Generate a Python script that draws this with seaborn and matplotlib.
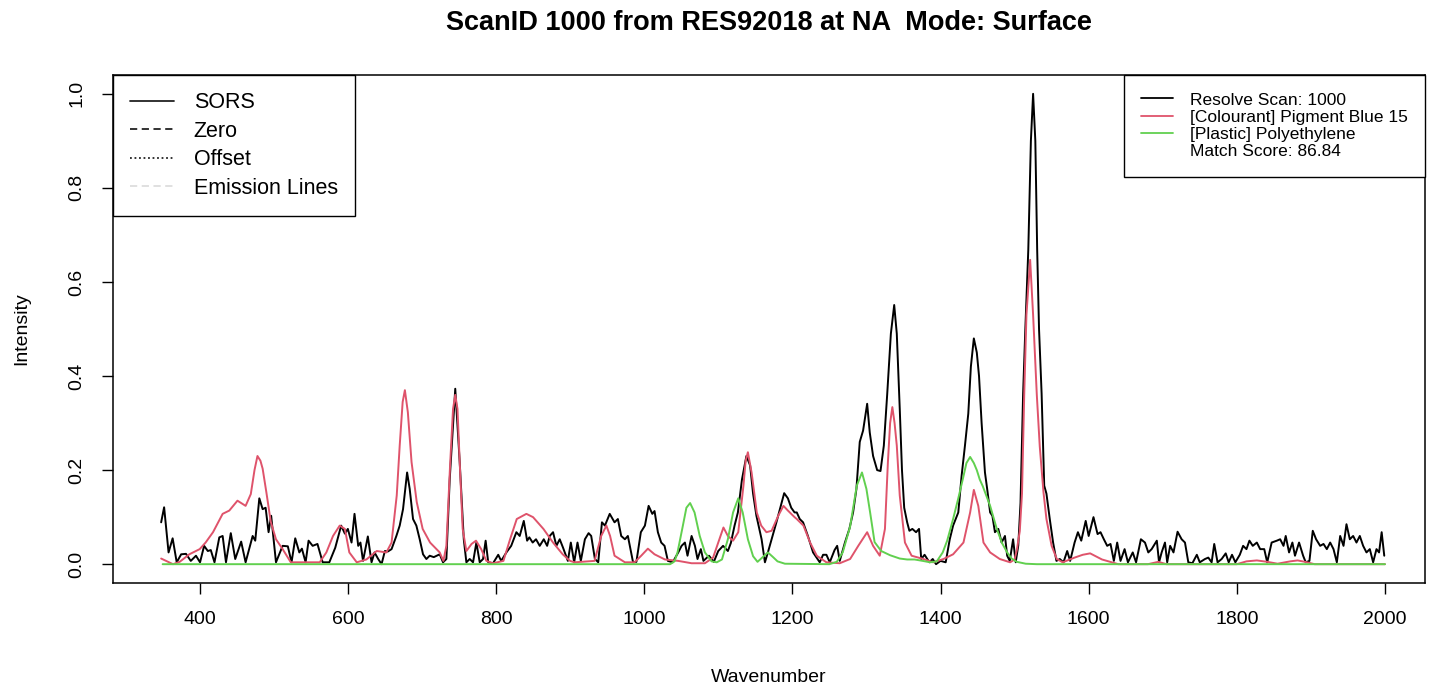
import matplotlib
matplotlib.use("Agg")
import matplotlib.pyplot as plt
from matplotlib.lines import Line2D
import seaborn as sns

# spectrum (wavenumber, normalised intensity)
scan_wn = [348, 352, 358, 363.5, 369, 375, 381.5, 388, 395, 400.5, 406, 411, 415, 420,
           426.5, 431, 435.5, 442, 448, 456, 462, 471.5, 475, 480.5, 485, 489, 493, 496.5,
           503, 512, 519, 524, 529, 534.5, 538, 543, 547, 552.5, 559, 566, 575, 583, 591,
           596, 600, 605, 609, 614, 617, 620.5, 627, 632, 636, 641, 645.5, 650, 654, 659,
           665.5, 670, 674.5, 680, 683.5, 688, 692.5, 697, 701.5, 706, 710.5, 716, 724,
           728.5, 733, 737.5, 745, 751, 756.5, 760, 764.5, 769, 773.5, 778, 782.5, 786,
           789.5, 796, 803, 807, 814, 820.5, 827.5, 832, 837.5, 842, 845, 849.5, 854, 859,
           864.5, 869, 872.5, 877, 881.5, 886, 890.5, 897, 901, 905.5, 910, 914.5, 920,
           925, 928.5, 933.5, 938, 943, 947, 953.5, 960, 964.5, 969, 974, 978, 985, 989.5,
           995.5, 1001, 1006, 1011, 1014, 1018.5, 1023, 1027.5, 1032, 1038.5, 1046, 1050.5,
           1055, 1058.5, 1064, 1068.5, 1072, 1076.5, 1080, 1087.5, 1094, 1100, 1106.5, 1113,
           1117, 1122, 1126.5, 1132, 1138, 1143, 1147, 1151.5, 1158.5, 1163, 1167, 1172,
           1178.5, 1184.5, 1189, 1194, 1198.5, 1203, 1206, 1210, 1214.5, 1221, 1228, 1237,
           1241.5, 1246, 1250.5, 1257, 1260.5, 1264, 1271, 1277, 1282, 1286.5, 1291,
           1295.5, 1301, 1304.5, 1309, 1314.5, 1319, 1323.5, 1328, 1333, 1337.5, 1341, 1345,
           1348, 1351, 1355, 1358, 1362, 1367, 1371, 1374, 1378.5, 1385, 1389.5, 1394, 1400,
           1407, 1412.5, 1417, 1424, 1428.5, 1433, 1437.5, 1441, 1445, 1449, 1452, 1455.5,
           1460, 1463, 1467, 1470, 1473.5, 1478, 1482.5, 1487, 1490, 1493.5, 1498, 1501.5,
           1505, 1508, 1511.5, 1514.5, 1518.5, 1522, 1525, 1528, 1530.5, 1533, 1536.5, 1540,
           1543, 1547.5, 1552, 1556.5, 1561, 1566, 1571, 1575, 1581, 1585.5, 1590, 1596,
           1600, 1606.5, 1612, 1616, 1620.5, 1625, 1629.5, 1634, 1638.5, 1643, 1648.5, 1653,
           1659.5, 1664, 1670.5, 1676, 1680.5, 1685, 1692, 1695, 1698.5, 1703, 1706, 1710,
           1714.5, 1720, 1725.5, 1730, 1734.5, 1740, 1746, 1750, 1757, 1761.5, 1766, 1769.5,
           1774, 1779.5, 1785, 1789, 1793.5, 1798, 1804, 1808.5, 1813, 1817, 1821.5, 1827,
           1831.5, 1837, 1841, 1847, 1854, 1858.5, 1863, 1866, 1870.5, 1875, 1878.5, 1884,
           1889.5, 1893, 1898, 1902.5, 1907, 1912.5, 1917, 1921.5, 1926, 1930.5, 1935,
           1939.5, 1944, 1948, 1952.5, 1957, 1961.5, 1966, 1970.5, 1975, 1979.5, 1984,
           1988.5, 1992, 1995.5, 1999]
scan_int = [0.089, 0.121, 0.025, 0.055, 0.004, 0.021, 0.022, 0.007, 0.018, 0.004, 0.039,
            0.028, 0.030, 0.004, 0.057, 0.060, 0.004, 0.066, 0.011, 0.048, 0.004, 0.060,
            0.050, 0.140, 0.117, 0.120, 0.068, 0.103, 0.004, 0.039, 0.038, 0.004, 0.055,
            0.025, 0.033, 0.004, 0.050, 0.039, 0.043, 0.004, 0.004, 0.035, 0.082, 0.065,
            0.075, 0.046, 0.107, 0.039, 0.046, 0.007, 0.059, 0.004, 0.025, 0.011, 0.000,
            0.028, 0.027, 0.032, 0.060, 0.082, 0.117, 0.195, 0.160, 0.096, 0.082, 0.053,
            0.021, 0.011, 0.018, 0.015, 0.021, 0.004, 0.011, 0.180, 0.373, 0.217, 0.053,
            0.004, 0.011, 0.004, 0.046, 0.004, 0.011, 0.050, 0.004, 0.002, 0.020, 0.007,
            0.025, 0.039, 0.068, 0.060, 0.092, 0.050, 0.057, 0.046, 0.053, 0.039, 0.053,
            0.039, 0.060, 0.068, 0.039, 0.053, 0.035, 0.007, 0.046, 0.004, 0.046, 0.007,
            0.053, 0.066, 0.060, 0.011, 0.004, 0.089, 0.082, 0.107, 0.089, 0.096, 0.060,
            0.053, 0.060, 0.004, 0.005, 0.068, 0.082, 0.124, 0.107, 0.113, 0.068, 0.046,
            0.039, 0.007, 0.004, 0.025, 0.039, 0.046, 0.018, 0.060, 0.039, 0.011, 0.032,
            0.007, 0.018, 0.005, 0.028, 0.039, 0.028, 0.045, 0.082, 0.110, 0.180, 0.230,
            0.210, 0.150, 0.103, 0.053, 0.004, 0.025, 0.053, 0.089, 0.124, 0.151, 0.140,
            0.120, 0.110, 0.110, 0.096, 0.089, 0.060, 0.025, 0.004, 0.020, 0.020, 0.004,
            0.030, 0.039, 0.007, 0.046, 0.075, 0.110, 0.160, 0.260, 0.284, 0.341, 0.280,
            0.230, 0.200, 0.198, 0.252, 0.360, 0.490, 0.551, 0.490, 0.330, 0.200, 0.120,
            0.089, 0.071, 0.075, 0.068, 0.075, 0.011, 0.020, 0.004, 0.011, 0.000, 0.007,
            0.004, 0.053, 0.082, 0.110, 0.188, 0.252, 0.320, 0.420, 0.480, 0.450, 0.400,
            0.300, 0.195, 0.160, 0.110, 0.103, 0.068, 0.075, 0.046, 0.060, 0.018, 0.007,
            0.053, 0.004, 0.040, 0.130, 0.362, 0.500, 0.668, 0.900, 1.000, 0.900, 0.668,
            0.500, 0.362, 0.167, 0.150, 0.096, 0.046, 0.007, 0.011, 0.004, 0.028, 0.007,
            0.046, 0.068, 0.050, 0.092, 0.060, 0.100, 0.064, 0.068, 0.053, 0.039, 0.043,
            0.007, 0.046, 0.007, 0.032, 0.004, 0.025, 0.004, 0.053, 0.046, 0.025, 0.032,
            0.050, 0.004, 0.025, 0.046, 0.004, 0.039, 0.025, 0.069, 0.053, 0.046, 0.004,
            0.002, 0.020, 0.004, 0.011, 0.014, 0.004, 0.043, 0.004, 0.011, 0.023, 0.004,
            0.020, 0.004, 0.020, 0.039, 0.032, 0.050, 0.039, 0.046, 0.032, 0.032, 0.004,
            0.046, 0.050, 0.053, 0.039, 0.060, 0.025, 0.046, 0.018, 0.046, 0.018, 0.004,
            0.007, 0.071, 0.053, 0.039, 0.043, 0.032, 0.046, 0.032, 0.004, 0.060, 0.039,
            0.085, 0.053, 0.060, 0.046, 0.060, 0.039, 0.025, 0.032, 0.004, 0.032, 0.025,
            0.068, 0.018]

# [Colourant] Pigment Blue 15 library spectrum
pb15_wn = [348, 364, 373, 386, 400, 408, 418, 431, 440, 451, 462, 469, 474, 478, 482,
           485, 490, 496, 503, 512, 523, 543, 562, 571, 580, 589, 596, 602, 612, 625, 639,
           652, 659, 666, 670, 674, 677, 681, 686, 693, 701, 711, 724, 729, 733, 738, 742,
           745, 748, 751, 755, 760, 767, 773, 780, 787, 796, 810, 819, 828, 841, 850, 864,
           877, 890, 900, 906, 933, 942, 949, 954, 960, 974, 987, 996, 1005, 1014, 1028,
           1046, 1064, 1082, 1093, 1100, 1107, 1113, 1120, 1127, 1134, 1137, 1140, 1145,
           1152, 1158, 1165, 1172, 1181, 1188, 1194, 1203, 1206, 1215, 1224, 1233, 1246,
           1264, 1278, 1289, 1301, 1309, 1318, 1325, 1329, 1332, 1335, 1338, 1341, 1345,
           1352, 1361, 1377, 1390, 1404, 1417, 1431, 1440, 1445, 1451, 1458, 1467, 1480,
           1494, 1500, 1503, 1507, 1510, 1513, 1516, 1521, 1525, 1530, 1534, 1539, 1543,
           1550, 1557, 1565, 1581, 1592, 1602, 1618, 1640, 1680, 1694, 1705, 1800, 1813,
           1827, 1841, 1855, 1872, 1882, 1892, 1905, 2000]
pb15_int = [0.012, 0.000, 0.005, 0.021, 0.032, 0.046, 0.068, 0.107, 0.114, 0.135, 0.124,
            0.149, 0.200, 0.230, 0.220, 0.203, 0.153, 0.090, 0.053, 0.032, 0.004, 0.004,
            0.004, 0.025, 0.060, 0.082, 0.075, 0.025, 0.004, 0.010, 0.028, 0.025, 0.046,
            0.146, 0.252, 0.345, 0.370, 0.323, 0.217, 0.132, 0.075, 0.046, 0.025, 0.007,
            0.039, 0.210, 0.330, 0.360, 0.330, 0.217, 0.075, 0.028, 0.043, 0.050, 0.032,
            0.007, 0.002, 0.007, 0.053, 0.096, 0.107, 0.100, 0.075, 0.046, 0.021, 0.007,
            0.004, 0.007, 0.060, 0.082, 0.060, 0.018, 0.004, 0.004, 0.018, 0.033, 0.021,
            0.010, 0.007, 0.002, 0.002, 0.014, 0.046, 0.078, 0.060, 0.050, 0.068, 0.167,
            0.220, 0.238, 0.195, 0.110, 0.082, 0.068, 0.071, 0.103, 0.124, 0.114, 0.100,
            0.096, 0.082, 0.046, 0.018, 0.004, 0.002, 0.011, 0.039, 0.068, 0.039, 0.018,
            0.075, 0.217, 0.300, 0.334, 0.300, 0.252, 0.146, 0.046, 0.018, 0.011, 0.004,
            0.011, 0.021, 0.046, 0.110, 0.158, 0.124, 0.046, 0.025, 0.011, 0.004, 0.010,
            0.030, 0.070, 0.150, 0.360, 0.530, 0.647, 0.530, 0.360, 0.250, 0.153, 0.096,
            0.039, 0.011, 0.004, 0.014, 0.020, 0.023, 0.010, 0.000, 0.000, 0.005, 0.000,
            0.000, 0.006, 0.008, 0.005, 0.001, 0.006, 0.008, 0.005, 0.000, 0.000]

# [Plastic] Polyethylene library spectrum
pe_wn = [350, 1035, 1041, 1045, 1052, 1057, 1062, 1068, 1075, 1082, 1091, 1098, 1105, 1113,
         1120, 1127, 1133, 1140, 1147, 1153, 1160, 1167, 1174, 1180, 1190, 1250, 1260, 1268,
         1278, 1287, 1294, 1300, 1305, 1311, 1320, 1332, 1345, 1355, 1365, 1376, 1386, 1395,
         1403, 1409, 1417, 1424, 1430, 1435, 1440, 1445, 1449, 1453, 1457, 1462, 1467, 1476,
         1483, 1490, 1496, 1503, 1515, 1530, 2000]
pe_int = [0.0, 0.0, 0.006, 0.025, 0.080, 0.120, 0.130, 0.110, 0.060, 0.025, 0.006, 0.004,
          0.010, 0.053, 0.110, 0.140, 0.110, 0.053, 0.017, 0.005, 0.015, 0.025, 0.015, 0.006,
          0.001, 0.0, 0.005, 0.025, 0.080, 0.167, 0.195, 0.160, 0.110, 0.047, 0.028, 0.019,
          0.012, 0.010, 0.010, 0.007, 0.004, 0.006, 0.025, 0.050, 0.096, 0.140, 0.180, 0.215,
          0.228, 0.215, 0.200, 0.180, 0.166, 0.145, 0.124, 0.075, 0.045, 0.025, 0.012, 0.005,
          0.001, 0.0, 0.0]

x_ticks = [400, 600, 800, 1000, 1200, 1400, 1600, 1800, 2000]
y_ticks = [0.0, 0.2, 0.4, 0.6, 0.8, 1.0]

sns.set_theme(style="ticks")
plt.rcParams['font.family'] = ['Liberation Sans', 'DejaVu Sans']
for k in ["text.color", "axes.labelcolor", "xtick.color", "ytick.color", "axes.edgecolor"]:
    plt.rcParams[k] = "black"

fig = plt.figure(figsize=(14.4, 6.91), dpi=100)
ax = fig.add_axes([113/1440, 108/691, 1312/1440, 508/691])

sns.lineplot(x=scan_wn, y=scan_int, color="black", lw=1.4, ax=ax)
sns.lineplot(x=pb15_wn, y=pb15_int, color="#DF536B", lw=1.4, ax=ax)
sns.lineplot(x=pe_wn, y=pe_int, color="#61D04F", lw=1.4, ax=ax)

ax.set_xlim(283, 2054)
ax.set_ylim(-0.04, 1.04)
ax.set_xticks(x_ticks)
ax.set_yticks(y_ticks)
ax.set_yticklabels([f"{v:.1f}" for v in y_ticks], rotation=90, va="center")
ax.tick_params(axis="both", direction="out", length=8, width=1, labelsize=14,
               pad=12, color="black", labelcolor="black")
for s in ax.spines.values():
    s.set_visible(True)
    s.set_color("black")
    s.set_linewidth(1.1)

ax.set_xlabel("Wavenumber", fontsize=14, labelpad=30)
ax.set_ylabel("Intensity", fontsize=14, labelpad=27)
fig.suptitle("ScanID 1000 from RES92018 at NA  Mode: Surface", fontsize=19.5,
             fontweight="bold", x=769/1440, y=1 - 23/691, va="center")

# left legend (line types)
lt_handles = [Line2D([], [], color="#222222", lw=1.3),
              Line2D([], [], color="#222222", lw=1.3, ls=(0, (4, 2.5))),
              Line2D([], [], color="#222222", lw=1.3, ls=(0, (1, 1.5))),
              Line2D([], [], color="#dddddd", lw=1.3, ls=(0, (4, 2.5)))]
leg1 = ax.legend(lt_handles, ["SORS", "Zero", "Offset", "Emission Lines"],
                 loc="upper left", bbox_to_anchor=(0, 1), borderaxespad=0,
                 fontsize=15.5, handlelength=2.05, handletextpad=0.9, labelspacing=0.35,
                 borderpad=0.8, fancybox=False, framealpha=1, edgecolor="black")
leg1.get_frame().set_linewidth(1.0)
ax.add_artist(leg1)

# right legend (matched spectra)
m_handles = [Line2D([], [], color="black", lw=1.3),
             Line2D([], [], color="#DF536B", lw=1.3),
             Line2D([], [], color="#61D04F", lw=1.3),
             Line2D([], [], ls="none")]
leg2 = ax.legend(m_handles, ["Resolve Scan: 1000", "[Colourant] Pigment Blue 15",
                             "[Plastic] Polyethylene", "Match Score: 86.84"],
                 loc="upper right", bbox_to_anchor=(1, 1), borderaxespad=0,
                 fontsize=12.5, handlelength=1.85, handletextpad=0.95, labelspacing=0.12,
                 borderpad=1.0, fancybox=False, framealpha=1, edgecolor="black")
leg2.get_frame().set_linewidth(1.0)

fig.savefig("out.png", dpi=100)
